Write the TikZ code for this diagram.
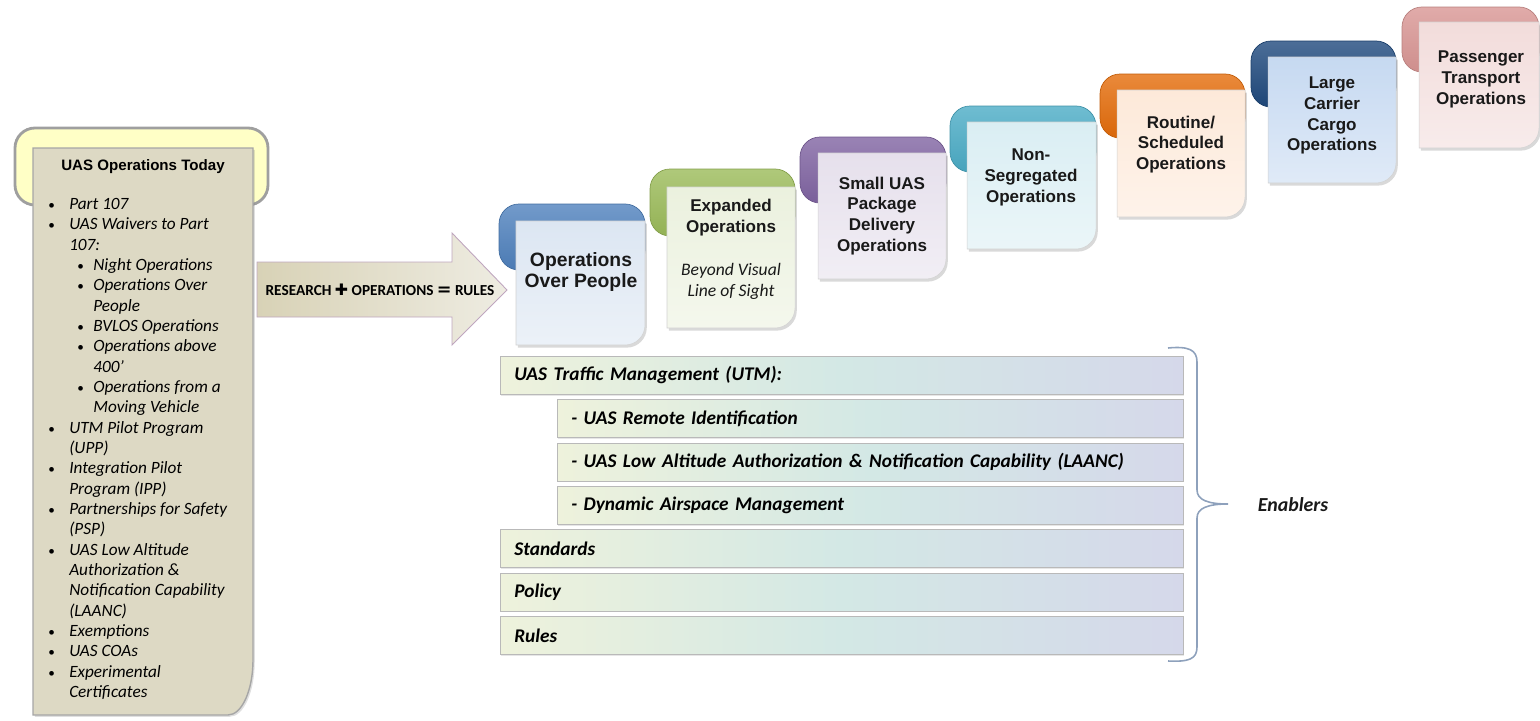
\documentclass[tikz,border=0pt]{standalone}
\usepackage{fontspec}
\setmainfont{Liberation Sans}
\newfontfamily\calibri{Carlito}
\newfontfamily\symfont{DejaVu Sans}
\usepackage{tikz}
\usetikzlibrary{positioning}
\usetikzlibrary{shadows}
\usetikzlibrary{calc}

\definecolor{khaki}{HTML}{DDD9C4}
\definecolor{headyellow}{HTML}{FFFFC6}
\definecolor{tabblue}{HTML}{4F81BD}
\definecolor{boxblue}{HTML}{DCE6F2}
\definecolor{tabgreen}{HTML}{9BBB59}
\definecolor{boxgreen}{HTML}{EBF1DE}
\definecolor{tabpurple}{HTML}{8064A2}
\definecolor{boxpurple}{HTML}{E6E0EC}
\definecolor{tabteal}{HTML}{4BACC6}
\definecolor{boxteal}{HTML}{DAEEF3}
\definecolor{taborange}{HTML}{E46C0A}
\definecolor{boxorange}{HTML}{FDE9D9}
\definecolor{tabnavy}{HTML}{1F497D}
\definecolor{boxnavy}{HTML}{C6D9F1}
\definecolor{tabpink}{HTML}{D99694}
\definecolor{boxpink}{HTML}{F2DCDB}
\definecolor{barleft}{HTML}{EEF2DC}
\definecolor{barmid}{HTML}{D3E8E5}
\definecolor{barright}{HTML}{D5D8EA}
\definecolor{bracecol}{HTML}{8EA1BC}
\definecolor{arrowleft}{HTML}{D8D2B6}
\definecolor{arrowright}{HTML}{EEECE2}

\newcommand{\ibullet}{\makebox[11.9pt][l]{\upshape\fontsize{7.5}{7.5}\selectfont •}}
\newcommand{\isub}{\hspace*{16.5pt}\makebox[9.1pt][l]{\upshape\fontsize{7.5}{7.5}\selectfont •}}

\begin{document}
\begin{tikzpicture}[x=0.02cm, y=0.02cm,
		tab/.style={rounded corners=0.4cm, draw=#1!85!black, line width=0.4pt, top color=#1!80!white, bottom color=#1!95!black},
		opsbox/.style={draw=gray!35, line width=0.3pt, top color=#1, bottom color=#1!55!white,
			drop shadow={shadow xshift=1pt, shadow yshift=-1.5pt, opacity=0.3}},
		opstext/.style={font=\fontsize{9.7}{11.9}\selectfont\bfseries, text=black!90, align=center},
		enabler/.style={rectangle, draw=gray!55, line width=0.4pt, left color=barleft, right color=barright, middle color=barmid,
			minimum height=0.76cm, inner xsep=0.28cm, text width=#1, align=left,
			font=\calibri\fontsize{11}{13}\selectfont\bfseries\itshape,
			drop shadow={shadow xshift=0.6pt, shadow yshift=-0.8pt, opacity=0.2}}]
	\useasboundingbox (0,0) rectangle (1540,-720);

	% today panel
	\path[rounded corners=0.4cm, draw=gray!75, line width=1.6pt, fill=headyellow] (15,-128) rectangle (268,-205);
	\path[draw=gray!70, line width=0.8pt, fill=khaki, drop shadow={shadow xshift=1pt, shadow yshift=-1pt, opacity=0.25}]
		(33,-148) -- (253,-148) -- (253,-660) arc[start angle=0, end angle=-90, x radius=25, y radius=55] -- (33,-715) -- cycle;
	\node[font=\fontsize{8.6}{10}\selectfont\bfseries] (todaytitle) at (143,-167) {UAS Operations Today};
	\node[anchor=north west, inner sep=0pt, align=left, font=\calibri\itshape\fontsize{9.8}{11.57}\selectfont] (todaylist) at (48,-198) {%
		\ibullet Part 107\\
		\ibullet UAS Waivers to Part\\
		\hspace*{11.9pt}107:\\
		\isub Night Operations\\
		\isub Operations Over\\
		\hspace*{25.6pt}People\\
		\isub BVLOS Operations\\
		\isub Operations above\\
		\hspace*{25.6pt}400’\\
		\isub Operations from a\\
		\hspace*{25.6pt}Moving Vehicle\\
		\ibullet UTM Pilot Program\\
		\hspace*{11.9pt}(UPP)\\
		\ibullet Integration Pilot\\
		\hspace*{11.9pt}Program (IPP)\\
		\ibullet Partnerships for Safety\\
		\hspace*{11.9pt}(PSP)\\
		\ibullet UAS Low Altitude\\
		\hspace*{11.9pt}Authorization \&\\
		\hspace*{11.9pt}Notification Capability\\
		\hspace*{11.9pt}(LAANC)\\
		\ibullet Exemptions\\
		\ibullet UAS COAs\\
		\ibullet Experimental\\
		\hspace*{11.9pt}Certificates};

	% research arrow
	\path[draw=gray!60!violet!50, line width=0.5pt, left color=arrowleft, right color=arrowright]
		(257,-262) -- (452,-262) -- (452,-233) -- (507,-290) -- (452,-345) -- (452,-317) -- (257,-317) -- cycle;
	\node[font=\calibri\bfseries\fontsize{8.7}{10}\selectfont] (resrules) at (380,-290)
		{RESEARCH {\symfont\fontsize{9}{10}\selectfont ✚} OPERATIONS {\symfont\bfseries\fontsize{10}{10}\selectfont =} RULES};

	% operation steps
	\path[tab=tabblue] (499,-204) rectangle (645,-270);
	\path[opsbox=boxblue] (516,-221) -- (645,-221) -- (645,-325) arc[start angle=0, end angle=-90, radius=20] -- (516,-345) -- cycle;
	\node[opstext, font=\fontsize{11}{12.5}\selectfont\bfseries] (overpeople) at (581,-272) {Operations\\Over People};

	\path[tab=tabgreen] (650,-169) rectangle (795,-236);
	\path[opsbox=boxgreen] (667,-187) -- (795,-187) -- (795,-308) arc[start angle=0, end angle=-90, radius=20] -- (667,-328) -- cycle;
	\node[opstext] (expanded) at (731,-218) {Expanded\\Operations};
	\node[font=\calibri\itshape\fontsize{10}{12}\selectfont, text=black!90, align=center] (bvlos) at (731,-281.5) {Beyond Visual\\Line of Sight};

	\path[tab=tabpurple] (800,-137) rectangle (946,-203);
	\path[opsbox=boxpurple] (818,-153) -- (946,-153) -- (946,-259) arc[start angle=0, end angle=-90, radius=20] -- (818,-279) -- cycle;
	\node[opstext] (pkgdelivery) at (882,-216) {Small UAS\\Package\\Delivery\\Operations};

	\path[tab=tabteal] (950,-106) rectangle (1096,-172);
	\path[opsbox=boxteal] (967,-122) -- (1096,-122) -- (1096,-229) arc[start angle=0, end angle=-90, radius=20] -- (967,-249) -- cycle;
	\node[opstext] (nonseg) at (1031,-177) {Non-\\Segregated\\Operations};

	\path[tab=taborange] (1100,-74) rectangle (1245,-138);
	\path[opsbox=boxorange] (1117,-90) -- (1245,-90) -- (1245,-197) arc[start angle=0, end angle=-90, radius=20] -- (1117,-217) -- cycle;
	\node[opstext] (routine) at (1181,-144.5) {Routine/\\Scheduled\\Operations};

	\path[tab=tabnavy] (1251,-41) rectangle (1396,-107);
	\path[opsbox=boxnavy] (1268,-57) -- (1396,-57) -- (1396,-163) arc[start angle=0, end angle=-90, radius=20] -- (1268,-183) -- cycle;
	\node[opstext] (cargo) at (1332,-115.5) {Large\\Carrier\\Cargo\\Operations};

	\path[tab=tabpink] (1402,-7) rectangle (1539,-72);
	\path[opsbox=boxpink] (1419,-22) -- (1539,-22) -- (1539,-128) arc[start angle=0, end angle=-90, radius=20] -- (1419,-148) -- cycle;
	\node[opstext] (passenger) at (1481,-79) {Passenger\\Transport\\Operations};

	% enablers
	\node[enabler=13.10cm, anchor=north west] (utm) at (500,-356) {UAS Traffic Management (UTM):};
	\node[enabler=11.96cm, below=0.093cm of utm.south east, anchor=north east] (remoteid) {- UAS Remote Identification};
	\node[enabler=11.96cm, below=0.093cm of remoteid.south east, anchor=north east] (laanc) {- UAS Low Altitude Authorization \& Notification Capability (LAANC)};
	\node[enabler=11.96cm, below=0.093cm of laanc.south east, anchor=north east] (dynamic) {- Dynamic Airspace Management};
	\node[enabler=13.10cm, below=0.093cm of dynamic.south east, anchor=north east] (standards) {Standards};
	\node[enabler=13.10cm, below=0.093cm of standards.south east, anchor=north east] (policy) {Policy};
	\node[enabler=13.10cm, below=0.093cm of policy.south east, anchor=north east] (rules) {Rules};

	\node[font=\calibri\bfseries\itshape\fontsize{11.3}{13}\selectfont, text=black!90] (enablers) at (1293,-505) {Enablers};
	\draw[bracecol, line width=0.9pt] (1168,-348) .. controls (1189,-346) and (1197,-350) .. (1197,-362)
		-- (1197,-490) .. controls (1197,-500) and (1208,-504) .. (1228,-504)
		.. controls (1208,-504) and (1197,-508) .. (1197,-518)
		-- (1197,-647) .. controls (1197,-659) and (1189,-662) .. (1168,-661);
\end{tikzpicture}
\end{document}
